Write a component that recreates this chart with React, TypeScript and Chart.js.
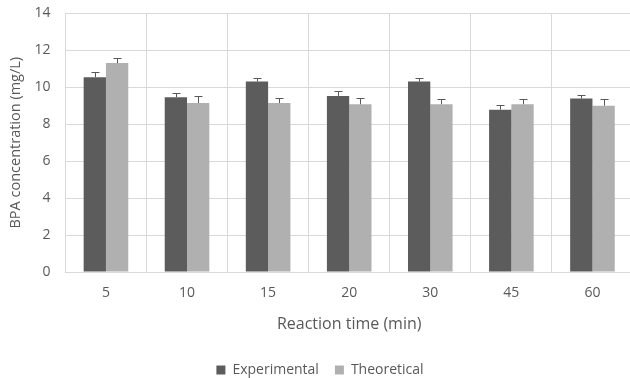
import React, { useEffect, useRef } from "react";
import { Chart, registerables } from "chart.js";

Chart.register(...registerables);

const categories = ["5", "10", "15", "20", "30", "45", "60"];
const experimental = [10.55, 9.46, 10.31, 9.53, 10.31, 8.79, 9.39];
const theoretical = [11.31, 9.15, 9.15, 9.08, 9.08, 9.08, 9.0];
const experimentalErr = [0.27, 0.22, 0.2, 0.29, 0.2, 0.27, 0.2];
const theoreticalErr = [0.27, 0.36, 0.27, 0.34, 0.27, 0.27, 0.35];
const yTicks = [0, 2, 4, 6, 8, 10, 12, 14];

const errors = [experimentalErr, theoreticalErr];

const errorBarPlugin = {
  id: "errorBars",
  afterDatasetsDraw(chart: any) {
    const ctx = chart.ctx;
    const yScale = chart.scales.y;
    ctx.save();
    ctx.strokeStyle = "#595959";
    ctx.lineWidth = 1;
    chart.data.datasets.forEach((ds: any, di: number) => {
      const meta = chart.getDatasetMeta(di);
      meta.data.forEach((el: any, i: number) => {
        const v = ds.data[i];
        const e = errors[di][i];
        const x = Math.round(el.x) + 0.5;
        const yTop = Math.round(yScale.getPixelForValue(v + e)) + 0.5;
        const yBar = el.y;
        ctx.beginPath();
        ctx.moveTo(x, yBar);
        ctx.lineTo(x, yTop);
        ctx.moveTo(x - 4, yTop);
        ctx.lineTo(x + 4, yTop);
        ctx.stroke();
      });
    });
    ctx.restore();
  },
};

export default function App() {
  const ref = useRef<HTMLCanvasElement | null>(null);

  useEffect(() => {
    document.body.style.margin = "0";
    if (!ref.current) return;
    const family = "'Open Sans', 'DejaVu Sans', sans-serif";
    const font = { family, size: 14 };
    const chart = new Chart(ref.current, {
      type: "bar",
      data: {
        labels: categories,
        datasets: [
          {
            label: "Experimental",
            data: experimental,
            backgroundColor: "#5b5c5b",
            categoryPercentage: 0.55,
            barPercentage: 1,
          },
          {
            label: "Theoretical",
            data: theoretical,
            backgroundColor: "#b0b0b0",
            categoryPercentage: 0.55,
            barPercentage: 1,
          },
        ],
      },
      options: {
        responsive: false,
        animation: false,
        layout: { padding: { top: 0, left: 7, right: 7, bottom: -9 } },
        plugins: {
          tooltip: { enabled: false },
          legend: {
            position: "bottom",
            labels: {
              font,
              color: "#595959",
              boxWidth: 9,
              boxHeight: 9,
              padding: 16,
            },
          },
        },
        scales: {
          x: {
            grid: { color: "#d9d9d9", drawTicks: false, offset: true },
            border: { color: "#d9d9d9" },
            ticks: { font, color: "#595959", padding: 13 },
            title: {
              display: true,
              text: "Reaction time (min)",
              font: { family, size: 16 },
              color: "#595959",
              padding: { top: 0, bottom: 13 },
            },
          },
          y: {
            min: 0,
            max: 14,
            afterBuildTicks: (axis: any) => {
              axis.ticks = yTicks.map((v) => ({ value: v }));
            },
            grid: {
              color: "#d9d9d9",
              drawTicks: true,
              tickLength: 10,
              tickColor: "rgba(0,0,0,0)",
            },
            border: { display: false },
            ticks: { font, color: "#595959", padding: 5 },
            title: {
              display: true,
              text: "BPA concentration (mg/L)",
              font: { family, size: 14.5 },
              color: "#595959",
              padding: { top: 0, bottom: 5 },
            },
          },
        },
      },
      plugins: [errorBarPlugin],
    });
    return () => chart.destroy();
  }, []);

  return (
    <div style={{ width: 630, height: 378, overflow: "hidden", background: "#fff" }}>
      <canvas ref={ref} width={640} height={378} />
    </div>
  );
}
